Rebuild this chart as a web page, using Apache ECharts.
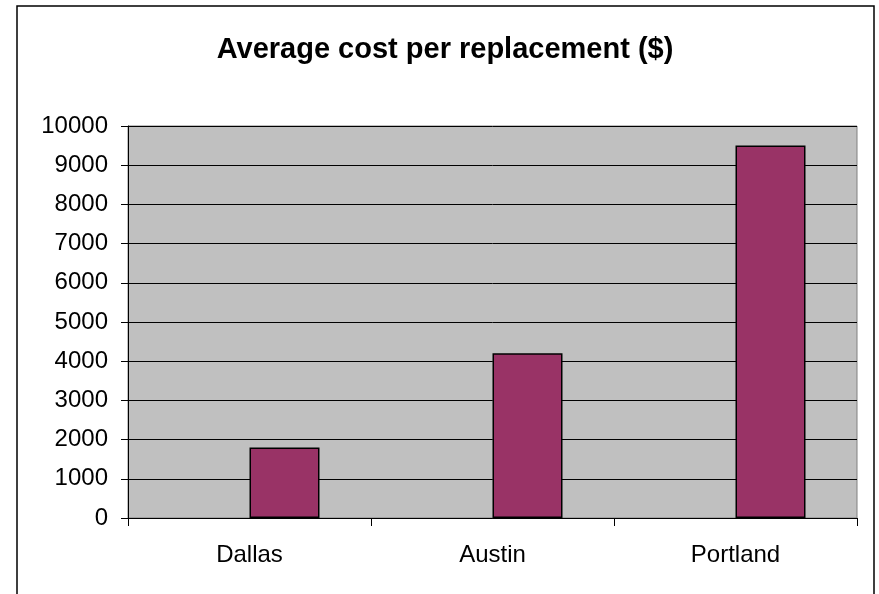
<!DOCTYPE html>
<html>
<head>
<meta charset="utf-8">
<title>Average cost per replacement</title>
<script src="https://cdn.jsdelivr.net/npm/echarts@6/dist/echarts.min.js"></script>
<style>
    html, body { margin: 0; padding: 0; background: #fff; }
    #cost-chart { width: 879px; height: 594px; }
</style>
</head>
<body>
<div id="cost-chart"></div>
<script>
var cities = ['Dallas', 'Austin', 'Portland'];
var avgCost = [1800, 4200, 9500];
var emptySeries = [null, null, null]; // excel left a blank series in front
var yTicks = [0, 1000, 10000]; // min, step, max

var costChart = echarts.init(document.getElementById('cost-chart'));
var costOption = {
    animation: false,
    textStyle: { fontFamily: '"Liberation Sans", Arial, sans-serif', color: '#000' },
    title: {
        text: 'Average cost per replacement ($)',
        left: 440,
        top: 30,
        textAlign: 'center',
        textStyle: { fontSize: 29, fontWeight: 'bold', color: '#000', fontFamily: '"Liberation Sans", Arial, sans-serif' }
    },
    graphic: [
        {
            type: 'rect',
            shape: { x: 17, y: 6, width: 857, height: 620 },
            style: { fill: null, stroke: '#000', lineWidth: 1.5 },
            silent: true
        }
    ],
    grid: {
        left: 128,
        right: 22,
        top: 126,
        bottom: 76,
        show: true,
        backgroundColor: '#c0c0c0',
        borderColor: '#808080',
        borderWidth: 1
    },
    xAxis: [
        {
            type: 'category',
            data: cities,
            boundaryGap: true,
            axisLine: { lineStyle: { color: '#000', width: 1 } },
            axisTick: { show: true, length: 8, lineStyle: { color: '#000' } },
            axisLabel: { fontSize: 24, color: '#000', margin: 25 }
        }
    ],
    yAxis: [
        {
            type: 'value',
            min: yTicks[0],
            max: yTicks[2],
            interval: yTicks[1],
            axisLine: { show: true, lineStyle: { color: '#000', width: 1 } },
            axisTick: { show: true, length: 7, lineStyle: { color: '#000' } },
            axisLabel: {
                fontSize: 24,
                color: '#000',
                margin: 20,
                formatter: function (v) { return String(v); } // no thousands comma
            },
            splitLine: { show: true, lineStyle: { color: '#000', width: 1 } }
        }
    ],
    series: [
        {
            name: 'blank',
            type: 'bar',
            barWidth: 70,
            barGap: '0%',
            data: emptySeries
        },
        {
            name: 'Average cost',
            type: 'bar',
            barWidth: 70,
            barGap: '0%',
            itemStyle: { color: '#993366', borderColor: '#000', borderWidth: 1.5 },
            data: avgCost
        }
    ]
};
costChart.setOption(costOption);

window.onresize = costChart.resize;
</script>
</body>
</html>
